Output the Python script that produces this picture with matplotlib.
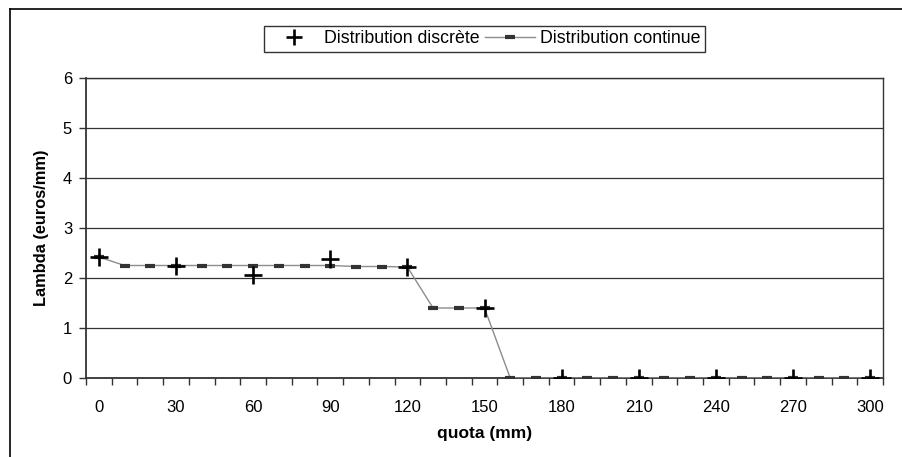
import matplotlib
matplotlib.use("Agg")
import matplotlib.pyplot as plt
from matplotlib.lines import Line2D

plt.rcParams['font.family'] = ['Liberation Sans', 'DejaVu Sans']

quota = list(range(0, 301, 10))
cont_vals = [2.42, 2.25, 2.25, 2.25, 2.25, 2.25, 2.25, 2.25, 2.25, 2.25,
             2.23, 2.23, 2.22, 1.40, 1.40, 1.40,
             0, 0, 0, 0, 0, 0, 0, 0, 0, 0, 0, 0, 0, 0, 0]
disc_quota = list(range(0, 301, 30))
disc_vals = [2.42, 2.24, 2.07, 2.38, 2.22, 1.40, 0, 0, 0, 0, 0]
xtick_labels = [str(q) for q in range(0, 301, 30)]
yticks = [0, 1, 2, 3, 4, 5, 6]

W, H = 902, 457
fig = plt.figure(figsize=(W / 100, H / 100), dpi=100)
L, T, R, B = 86, 78, 883, 378
ax = fig.add_axes([L / W, 1 - B / H, (R - L) / W, (B - T) / H])

idx = {q: i for i, q in enumerate(quota)}
xc = [idx[q] for q in quota]
xd = [idx[q] for q in disc_quota]

ax.plot(xc, cont_vals, color='#8c8c8c', lw=1.0, marker='_', ms=6.5,
        mew=3.0, mec='#333333', zorder=3)
ax.plot(xd, disc_vals, ls='none', marker='+', ms=13, mew=1.9, color='black', zorder=4)

ax.set_xlim(-0.5, len(quota) - 0.5)
ax.set_ylim(0, 6)
ax.set_yticks(yticks)
ax.yaxis.grid(True, color='#333333', lw=0.9)
ax.set_axisbelow(True)

ax.set_xticks([idx[q] for q in range(0, 301, 30)])
ax.set_xticklabels(xtick_labels)
ax.set_xticks([i - 0.5 for i in range(len(quota) + 1)], minor=True)
ax.tick_params(axis='x', which='major', length=0, labelsize=12, pad=16)
ax.tick_params(axis='x', which='minor', length=5, direction='out', width=1, color='#333333')
ax.tick_params(axis='y', length=5, direction='out', labelsize=12, width=1, color='#333333', pad=5)

for s in ['left', 'bottom']:
    ax.spines[s].set_color('#333333')
    ax.spines[s].set_linewidth(1.3)
for s in ['top', 'right']:
    ax.spines[s].set_color('#333333')
    ax.spines[s].set_linewidth(1.0)

ax.set_xlabel('quota (mm)', fontweight='bold', fontsize=12.5, labelpad=8)
ax.set_ylabel('Lambda (euros/mm)', fontweight='bold', fontsize=11.8, labelpad=10)

handles = [
    Line2D([], [], ls='none', marker='+', ms=11, mew=1.9, color='black'),
    Line2D([], [], color='#8c8c8c', lw=1.0, marker='_', ms=6.5, mew=3.0, mec='#333333'),
]
leg = ax.legend(handles, ['Distribution discrète', 'Distribution continue'],
                loc='lower center', bbox_to_anchor=(0.5, 1.087), ncol=2,
                frameon=True, fancybox=False, edgecolor='black', fontsize=12.8,
                handlelength=2.8, handletextpad=0.3, columnspacing=0.3,
                borderpad=0.25, borderaxespad=0)
leg.get_frame().set_linewidth(1.0)

# outer chart-area border (left and top edges visible)
fig.add_artist(Line2D([10 / W, 10 / W], [0, 1 - 9 / H], transform=fig.transFigure,
                      color='black', lw=1.2))
fig.add_artist(Line2D([10 / W, 1], [1 - 9 / H, 1 - 9 / H], transform=fig.transFigure,
                      color='black', lw=1.2))

fig.savefig('out.png', dpi=100)
